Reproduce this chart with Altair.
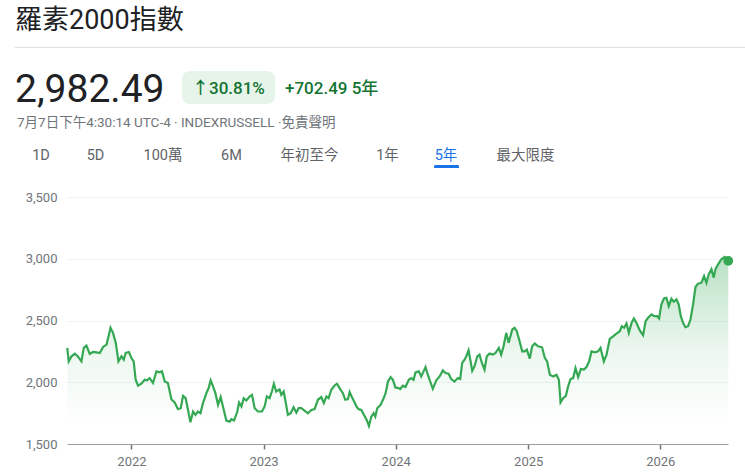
import altair as alt
import pandas as pd

# ---------------- data ----------------
YEARS = [
    2021.514, 2021.525, 2021.546, 2021.571, 2021.593, 2021.621, 2021.639, 2021.659, 2021.684, 2021.709,
    2021.735, 2021.760, 2021.785, 2021.811, 2021.823, 2021.841, 2021.860, 2021.881, 2021.901, 2021.924,
    2021.941, 2021.956, 2021.981, 2022.000, 2022.017, 2022.032, 2022.050, 2022.075, 2022.100, 2022.118,
    2022.138, 2022.163, 2022.189, 2022.214, 2022.231, 2022.252, 2022.276, 2022.302, 2022.327, 2022.352,
    2022.373, 2022.390, 2022.410, 2022.428, 2022.446, 2022.466, 2022.484, 2022.503, 2022.522, 2022.541,
    2022.567, 2022.584, 2022.599, 2022.617, 2022.635, 2022.655, 2022.675, 2022.692, 2022.718, 2022.743,
    2022.756, 2022.776, 2022.801, 2022.814, 2022.832, 2022.849, 2022.869, 2022.894, 2022.912, 2022.932,
    2022.957, 2022.987, 2023.008, 2023.025, 2023.046, 2023.063, 2023.078, 2023.096, 2023.121, 2023.134,
    2023.152, 2023.164, 2023.184, 2023.205, 2023.227, 2023.248, 2023.265, 2023.285, 2023.310, 2023.335,
    2023.361, 2023.386, 2023.411, 2023.437, 2023.456, 2023.475, 2023.492, 2023.512, 2023.537, 2023.555,
    2023.575, 2023.600, 2023.618, 2023.638, 2023.651, 2023.668, 2023.689, 2023.702, 2023.719, 2023.739,
    2023.759, 2023.782, 2023.797, 2023.815, 2023.832, 2023.845, 2023.860, 2023.885, 2023.903, 2023.923,
    2023.941, 2023.961, 2023.978, 2023.997, 2024.021, 2024.034, 2024.054, 2024.074, 2024.099, 2024.118,
    2024.135, 2024.150, 2024.175, 2024.193, 2024.211, 2024.226, 2024.243, 2024.261, 2024.281, 2024.307,
    2024.332, 2024.357, 2024.377, 2024.400, 2024.420, 2024.445, 2024.470, 2024.488, 2024.503, 2024.521,
    2024.534, 2024.551, 2024.564, 2024.579, 2024.596, 2024.617, 2024.634, 2024.652, 2024.672, 2024.689,
    2024.710, 2024.735, 2024.755, 2024.780, 2024.798, 2024.816, 2024.836, 2024.854, 2024.882, 2024.899,
    2024.916, 2024.937, 2024.957, 2024.975, 2024.992, 2025.012, 2025.030, 2025.050, 2025.075, 2025.105,
    2025.126, 2025.143, 2025.164, 2025.189, 2025.214, 2025.232, 2025.245, 2025.264, 2025.285, 2025.302,
    2025.320, 2025.340, 2025.358, 2025.378, 2025.398, 2025.421, 2025.441, 2025.461, 2025.479, 2025.504,
    2025.529, 2025.547, 2025.572, 2025.593, 2025.617, 2025.642, 2025.668, 2025.693, 2025.708, 2025.726,
    2025.744, 2025.761, 2025.782, 2025.799, 2025.819, 2025.844, 2025.869, 2025.888, 2025.907, 2025.933,
    2025.953, 2025.975, 2025.990, 2026.008, 2026.028, 2026.046, 2026.064, 2026.084, 2026.102, 2026.122,
    2026.139, 2026.155, 2026.172, 2026.190, 2026.210, 2026.228, 2026.248, 2026.266, 2026.285, 2026.311,
    2026.331, 2026.349, 2026.366, 2026.387, 2026.404, 2026.417, 2026.437, 2026.462, 2026.487, 2026.514,
]
VALUES = [
    2278, 2169, 2210, 2232, 2210, 2169, 2278, 2297, 2229, 2245,
    2242, 2237, 2286, 2305, 2359, 2441, 2400, 2319, 2169, 2210,
    2183, 2237, 2245, 2196, 2169, 2020, 1972, 1988, 2020, 2015,
    2034, 1994, 2088, 2080, 2088, 2006, 1994, 1863, 1836, 1782,
    1790, 1890, 1871, 1776, 1676, 1763, 1736, 1763, 1749, 1831,
    1912, 1953, 2015, 1966, 1912, 1817, 1880, 1804, 1690, 1681,
    1701, 1690, 1763, 1836, 1804, 1871, 1852, 1885, 1898, 1790,
    1763, 1763, 1804, 1885, 1871, 1925, 1988, 1925, 1942, 1898,
    1925, 1858, 1736, 1749, 1798, 1754, 1790, 1790, 1771, 1749,
    1776, 1782, 1858, 1880, 1831, 1885, 1871, 1939, 1974, 1988,
    1953, 1912, 1858, 1863, 1920, 1880, 1836, 1804, 1782, 1776,
    1736, 1690, 1646, 1722, 1749, 1722, 1790, 1817, 1858, 1912,
    2006, 2042, 2020, 1958, 1953, 1945, 1972, 1961, 2020, 2034,
    2020, 2080, 2088, 2047, 2088, 2123, 2061, 2006, 1947, 2015,
    2047, 2096, 2075, 2069, 2026, 2006, 2034, 2026, 2156, 2183,
    2210, 2259, 2183, 2093, 2128, 2210, 2224, 2156, 2102, 2210,
    2232, 2224, 2237, 2278, 2224, 2291, 2400, 2319, 2427, 2441,
    2413, 2332, 2250, 2250, 2264, 2191, 2291, 2313, 2291, 2283,
    2197, 2169, 2061, 2047, 2061, 2020, 1836, 1871, 1890, 1966,
    2026, 2034, 2115, 2042, 2107, 2102, 2123, 2169, 2250, 2242,
    2250, 2278, 2169, 2224, 2351, 2372, 2394, 2413, 2454, 2441,
    2476, 2400, 2481, 2516, 2481, 2419, 2381, 2494, 2522, 2549,
    2535, 2535, 2516, 2630, 2679, 2684, 2616, 2676, 2652, 2671,
    2630, 2535, 2481, 2446, 2454, 2508, 2630, 2771, 2798, 2806,
    2860, 2806, 2874, 2915, 2847, 2915, 2955, 2996, 3015, 2982.49,
]
Y_TICKS = [1500, 2000, 2500, 3000, 3500]
X_TICK_YEARS = [2022, 2023, 2024, 2025, 2026]

TITLE = "羅素2000指數"
PRICE = "2,982.49"
CHANGE_PCT = "↑30.81%"
CHANGE_ABS = "+702.49 5年"
SUBTITLE = "7月7日下午4:30:14 UTC-4 · INDEXRUSSELL ·免責聲明"
TABS = ["1D", "5D", "100萬", "6M", "年初至今", "1年", "5年", "最大限度"]
ACTIVE_TAB = "5年"

# ---------------- layout / style ----------------
FONT = "Roboto, 'Noto Sans CJK TC', sans-serif"
GREEN = "#34a853"
DARK_GREEN = "#137333"
TAB_X = [-26, 28.5, 96, 164.5, 242.5, 320.5, 379, 458.5]  # centres, relative to plot origin


def to_ts(t):
    y = int(t)
    return pd.Timestamp(year=y, month=1, day=1) + pd.Timedelta(days=(t - y) * 365.25)


df = pd.DataFrame({"date": [to_ts(t) for t in YEARS], "value": VALUES})

x_enc = alt.X(
    "date:T",
    scale=alt.Scale(domain=[alt.DateTime(year=2021, month=7, date=7),
                            alt.DateTime(year=2026, month=7, date=7)]),
    axis=alt.Axis(
        values=[alt.DateTime(year=y, month=1, date=1) for y in X_TICK_YEARS],
        format="%Y", title=None, grid=False,
        domainColor="#9aa0a6", domainWidth=1,
        tickColor="#70757a", tickSize=5, tickWidth=1.5,
        labelColor="#70757a", labelFont=FONT, labelFontSize=13, labelPadding=6,
    ),
)
y_enc = alt.Y(
    "value:Q",
    scale=alt.Scale(domain=[1500, 3500], nice=False, zero=False),
    axis=alt.Axis(
        values=Y_TICKS, format=",.0f", title=None, domain=False, ticks=False,
        gridColor="#f1f3f4", gridWidth=1,
        labelColor="#70757a", labelFont=FONT, labelFontSize=13, labelPadding=10,
    ),
)

area = alt.Chart(df).mark_area(
    opacity=1,
    color=alt.Gradient(
        gradient="linear",
        stops=[
            alt.GradientStop(color="rgba(52,168,83,0.34)", offset=0),
            alt.GradientStop(color="rgba(52,168,83,0.09)", offset=0.5),
            alt.GradientStop(color="rgba(52,168,83,0)", offset=0.9),
        ],
        x1=1, x2=1, y1=0, y2=1,
    ),
).encode(x=x_enc, y=y_enc, y2=alt.datum(1500))

line = alt.Chart(df).mark_line(color=GREEN, strokeWidth=2.2).encode(x=x_enc, y=y_enc)

dot = alt.Chart(df.tail(1)).mark_circle(color=GREEN, size=95, opacity=1).encode(x=x_enc, y=y_enc)

one = pd.DataFrame({"k": [0]})


def text_layer(txt, x, y, size, color, align="left", weight="normal"):
    return alt.Chart(pd.DataFrame({"t": [txt]})).mark_text(
        align=align, baseline="alphabetic", font=FONT, fontSize=size,
        color=color, fontWeight=weight,
    ).encode(x=alt.value(x), y=alt.value(y), text="t:N")


layers = [area, line, dot]

layers.append(text_layer(TITLE, -52, -168, 27, "#202124"))
layers.append(
    alt.Chart(one).mark_rule(color="#e0e0e0", strokeWidth=1).encode(
        x=alt.value(-52), x2=alt.value(678), y=alt.value(-149.5))
)
layers.append(text_layer(PRICE, -52, -95, 39, "#202124"))
layers.append(
    alt.Chart(one).mark_rect(color="#e6f4ea", cornerRadius=8).encode(
        x=alt.value(115), x2=alt.value(208), y=alt.value(-126), y2=alt.value(-93))
)
layers.append(text_layer(CHANGE_PCT, 125, -103, 17, DARK_GREEN, weight=500))
layers.append(text_layer(CHANGE_ABS, 218, -103, 17, DARK_GREEN, weight=500))
layers.append(text_layer(SUBTITLE, -50, -70, 13.5, "#70757a"))

for name, tx in zip(TABS, TAB_X):
    col = "#1a73e8" if name == ACTIVE_TAB else "#5f6368"
    layers.append(text_layer(name, tx, -37, 14.5, col, align="center"))

layers.append(
    alt.Chart(one).mark_rect(color="#1a73e8", cornerRadiusTopLeft=3, cornerRadiusTopRight=3).encode(
        x=alt.value(367), x2=alt.value(392), y=alt.value(-32), y2=alt.value(-29))
)

chart = alt.layer(*layers).properties(
    width=661,
    height=247,
    padding={"left": 67, "top": 197, "right": 17, "bottom": 32},
    autosize=alt.AutoSizeParams(type="none"),
    background="white",
).configure_view(stroke=None)

chart.save("out.html", embed_options={"renderer": "svg", "actions": False})
